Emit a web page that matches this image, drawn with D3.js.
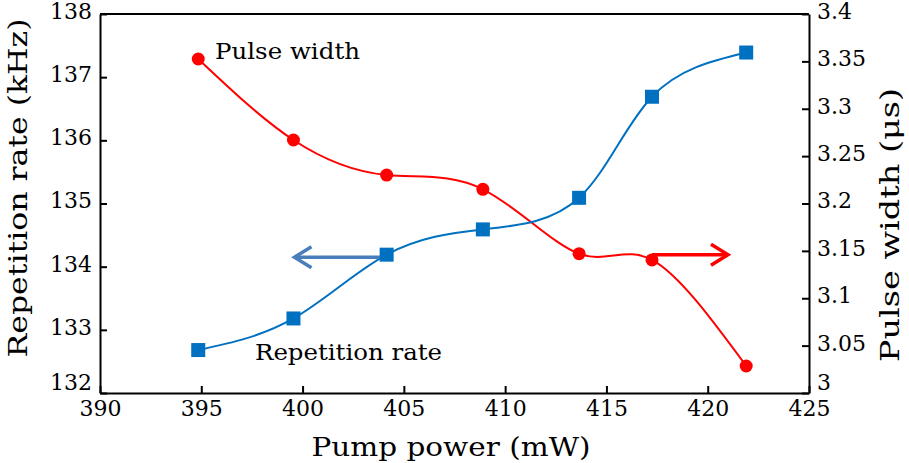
<!DOCTYPE html>
<html>
<head>
<meta charset="utf-8">
<script src="https://cdn.jsdelivr.net/npm/d3@7"></script>
<style>
  html, body { margin: 0; padding: 0; background: #fff; }
  svg { display: block; }
  text { font-family: "DejaVu Serif", "Liberation Serif", serif; fill: #000; }
</style>
</head>
<body>
<svg id="chart" width="909" height="463"></svg>
<script>
// ---- data ----
const pumpPower = [394.85, 399.55, 404.15, 408.9, 413.65, 417.25, 421.9];
const repRate = [132.68, 133.18, 134.19, 134.59, 135.09, 136.69, 137.39];
const pulseWidth = [3.3525, 3.267, 3.230, 3.215, 3.147, 3.1405, 3.0285];
const xTicks = [390, 395, 400, 405, 410, 415, 420, 425];
const yLeftTicks = [132, 133, 134, 135, 136, 137, 138];
const yRightTicks = [3, 3.05, 3.1, 3.15, 3.2, 3.25, 3.3, 3.35, 3.4];
const blueArrow = { from: [404.15, 134.15], to: [399.6, 134.15] };   // left-axis units
const redArrow = { from: [417.25, 3.146], to: [421.0, 3.146] };       // right-axis units

const x0 = 100, x1 = 809, y0 = 393, y1 = 14;

const svg = d3.select("#chart");
const x = d3.scaleLinear().domain([390, 425]).range([x0, x1]);
const yL = d3.scaleLinear().domain([132, 138]).range([y0, y1]);
const yR = d3.scaleLinear().domain([3, 3.4]).range([y0, y1]);

const blue = "#0070C0", red = "#FF0000", arrowBlue = "#4A7EBB";

// lines
const lineL = d3.line().x((d, i) => x(pumpPower[i])).y(d => yL(d)).curve(d3.curveNatural);
const lineR = d3.line().x((d, i) => x(pumpPower[i])).y(d => yR(d)).curve(d3.curveNatural);

svg.append("path").attr("d", lineR(pulseWidth)).attr("fill", "none")
  .attr("stroke", red).attr("stroke-width", 2);
svg.append("path").attr("d", lineL(repRate)).attr("fill", "none")
  .attr("stroke", blue).attr("stroke-width", 2);

// arrows
function arrow(a, ys, color) {
  const ax = x(a.from[0]), ay = ys(a.from[1]);
  const bx = x(a.to[0]), by = ys(a.to[1]);
  const dir = Math.sign(bx - ax);
  const g = svg.append("g").attr("stroke", color).attr("stroke-width", 3.5)
    .attr("fill", "none").attr("stroke-linecap", "butt").attr("stroke-linejoin", "miter");
  g.append("line").attr("x1", ax).attr("y1", ay).attr("x2", bx - dir * 2).attr("y2", by);
  g.append("path").attr("d", `M${bx - dir * 17},${by - 10.5}L${bx},${by}L${bx - dir * 17},${by + 10.5}`);
}
arrow(blueArrow, yL, arrowBlue);
arrow(redArrow, yR, red);

// markers
svg.selectAll("rect.m").data(repRate).join("rect").attr("class", "m")
  .attr("x", (d, i) => x(pumpPower[i]) - 7).attr("y", d => yL(d) - 7)
  .attr("width", 14).attr("height", 14).attr("fill", blue);
svg.selectAll("circle.m").data(pulseWidth).join("circle").attr("class", "m")
  .attr("cx", (d, i) => x(pumpPower[i])).attr("cy", d => yR(d))
  .attr("r", 6.5).attr("fill", red);

// axes
const fs = 22;
const gx = svg.append("g").attr("transform", `translate(0,${y0})`)
  .call(d3.axisBottom(x).tickValues(xTicks).tickFormat(d3.format("d")).tickSizeInner(-7).tickSizeOuter(0).tickPadding(7));
const gl = svg.append("g").attr("transform", `translate(${x0},0)`)
  .call(d3.axisLeft(yL).tickValues(yLeftTicks).tickFormat(d3.format("d")).tickSizeInner(-7).tickSizeOuter(0).tickPadding(8));
const gr = svg.append("g").attr("transform", `translate(${x1},0)`)
  .call(d3.axisRight(yR).tickValues(yRightTicks).tickFormat(d => String(+d.toFixed(2))).tickSizeInner(-7).tickSizeOuter(0).tickPadding(8));
svg.append("line").attr("x1", x0).attr("x2", x1).attr("y1", y1).attr("y2", y1)
  .attr("stroke", "#000").attr("stroke-width", 2);
[gx, gl, gr].forEach(g => {
  g.selectAll("path.domain").attr("stroke", "#000").attr("stroke-width", 2);
  g.selectAll(".tick line").attr("stroke", "#000").attr("stroke-width", 2);
  g.selectAll(".tick text").style("font-family", '"DejaVu Serif", serif').style("font-size", fs + "px").attr("fill", "#000");
});
gl.selectAll(".tick text").attr("dy", d => d === 132 ? "-0.15em" : "0.2em");
gr.selectAll(".tick text").attr("dy", d => d === 3 ? "-0.15em" : "0.2em");

// labels
function label(t, size, len) {
  return t.style("font-size", size + "px").attr("textLength", len).attr("lengthAdjust", "spacingAndGlyphs");
}
label(svg.append("text").attr("x", 451).attr("y", 456).attr("text-anchor", "middle"), 26, 279)
  .text("Pump power (mW)");
label(svg.append("text").attr("transform", "translate(27,188) rotate(-90)").attr("text-anchor", "middle"), 26, 339)
  .text("Repetition rate (kHz)");
label(svg.append("text").attr("transform", "translate(899,225) rotate(-90)").attr("text-anchor", "middle"), 26, 274)
  .text("Pulse width (μs)");
label(svg.append("text").attr("x", 215).attr("y", 59), 23, 145).text("Pulse width");
label(svg.append("text").attr("x", 255).attr("y", 360), 23, 187).text("Repetition rate");
</script>
</body>
</html>
